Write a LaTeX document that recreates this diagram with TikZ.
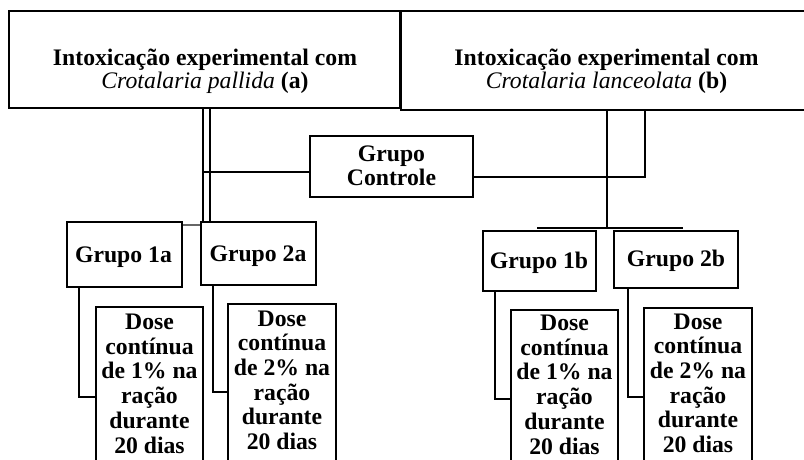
\documentclass[tikz,border=0pt]{standalone}
\usepackage{fontspec}
\setmainfont{Liberation Serif}
\begin{document}
\begin{tikzpicture}[x=1pt,y=-1pt,
  box/.style={draw, line width=2.3pt, rectangle, inner sep=0pt, minimum width=#1},
  conn/.style={line width=2.5pt},
  link/.style={line width=2.2pt, draw=black!60},
  txt/.style={anchor=base, align=center, inner sep=0pt, font=\bfseries\fontsize{23.7}{24.7}\selectfont},
  ttl/.style={txt, font=\bfseries\fontsize{23.7}{23.4}\selectfont}]
\useasboundingbox (0,0) rectangle (804,459);
% boxes
\node[box=391, minimum height=97] (A) at (204.5,59.5) {};
\node[box=409, minimum height=99] (B) at (605.5,60.5) {};
\node[box=163, minimum height=61] (C) at (391.5,166.5) {};
\node[box=115, minimum height=65] (G1a) at (124.5,254.5) {};
\node[box=115, minimum height=63] (G2a) at (258.5,253.5) {};
\node[box=113, minimum height=60] (G1b) at (539.5,261) {};
\node[box=124, minimum height=57] (G2b) at (676,259.5) {};
\node[box=107, minimum height=168] (D1a) at (149.5,391) {};
\node[box=108, minimum height=171] (D2a) at (282,389.5) {};
\node[box=107, minimum height=165] (D1b) at (564.5,392.5) {};
\node[box=108, minimum height=167] (D2b) at (698,391.5) {};
% texts (anchor = baseline of last line)
\node[ttl] (tA) at (205,88.4) {Intoxicação experimental com\\{\mdseries\itshape Crotalaria pallida} (a)};
\node[ttl] (tB) at (606.5,88.4) {Intoxicação experimental com\\{\mdseries\itshape Crotalaria lanceolata} (b)};
\node[txt] (tC) at (391.5,185.7) {Grupo\\Controle};
\node[txt] (t1a) at (123.5,262.7) {Grupo 1a};
\node[txt] (t2a) at (258,261) {Grupo 2a};
\node[txt] (t1b) at (539,268) {Grupo 1b};
\node[txt] (t2b) at (676,266) {Grupo 2b};
\node[txt] (d1a) at (149.5,453) {Dose\\contínua\\de 1\% na\\ração\\durante\\20 dias};
\node[txt] (d2a) at (282,449.5) {Dose\\contínua\\de 2\% na\\ração\\durante\\20 dias};
\node[txt] (d1b) at (564.5,454) {Dose\\contínua\\de 1\% na\\ração\\durante\\20 dias};
\node[txt] (d2b) at (698,452.5) {Dose\\contínua\\de 2\% na\\ração\\durante\\20 dias};
% junction coordinates
\coordinate (a1) at (203,0);
\coordinate (a2) at (210,0);
\coordinate (hc) at (0,172);
\coordinate (b1) at (607,0);
\coordinate (b2) at (645,0);
\coordinate (hb) at (0,177);
\coordinate (barL) at (537,228);
\coordinate (barR) at (683,228);
% connectors left
\draw[conn] (A.south -| a1) -- (G2a.north -| a1);
\draw[conn] (A.south -| a2) -- (G2a.north -| a2);
\draw[conn] (a1 |- hc) -- (C.west |- hc);
\draw[link] (G1a.east |- 0,225) -- (G2a.west |- 0,225);
% connectors right
\draw[conn] (B.south -| b1) -- (b1 |- barL);
\draw[conn] (barL) -- (barR);
\draw[conn] (B.south -| b2) |- (C.east |- hb);
% group to dose
\draw[conn] (G1a.south -| 79,0) |- (D1a.west |- 0,397);
\draw[conn] (G2a.south -| 213,0) |- (D2a.west |- 0,392);
\draw[conn] (G1b.south -| 495,0) |- (D1b.west |- 0,399);
\draw[conn] (G2b.south -| 628,0) |- (D2b.west |- 0,397);
\end{tikzpicture}
\end{document}
